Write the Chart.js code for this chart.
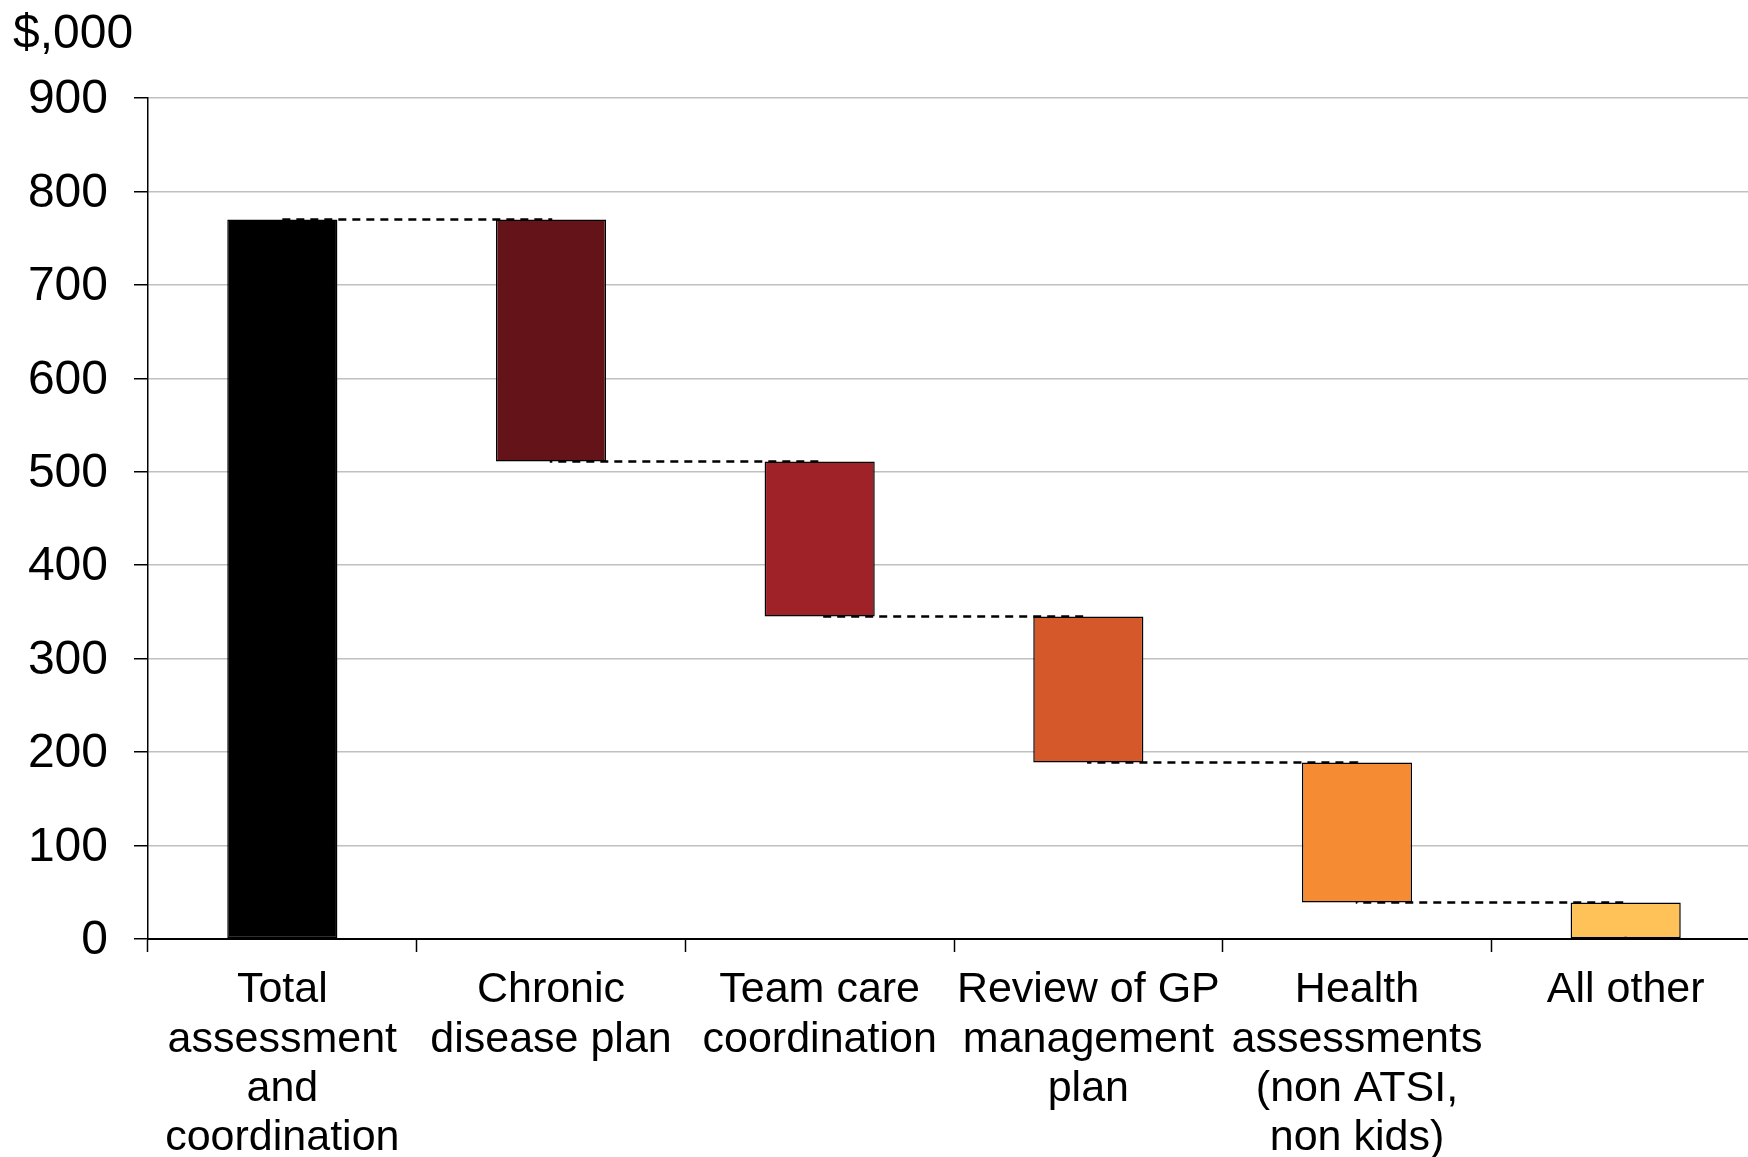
<!DOCTYPE html>
<html lang="en">
<head>
  <meta charset="UTF-8">
  <title>Assessment and coordination waterfall</title>
  <script src="https://cdn.jsdelivr.net/npm/chart.js"></script>
  <style>
    html, body { margin: 0; padding: 0; background: #fff; overflow: hidden; }
    /* plot runs a little past the right edge in the original, so the canvas is clipped */
    #wrap { width: 1748px; height: 1157px; overflow: hidden; }
  </style>
</head>
<body>
  <div id="wrap">
    <canvas id="waterfall" width="1760" height="1157"></canvas>
  </div>

  <script>
    // Categories (multi-line labels)
    const categories = [
      ['Total', 'assessment', 'and', 'coordination'],
      ['Chronic', 'disease plan'],
      ['Team care', 'coordination'],
      ['Review of GP', 'management', 'plan'],
      ['Health', 'assessments', '(non ATSI,', 'non kids)'],
      ['All other']
    ];

    // $,000 values
    const totalValue = 770;
    const components = [259, 166, 156, 150, 39];

    const barColors = ['#000000', '#641419', '#9E2227', '#D5582B', '#F58C34', '#FFC258'];
    const yTicks = [0, 100, 200, 300, 400, 500, 600, 700, 800, 900];

    // build floating bars + running level for the dashed connectors
    const bars = [[0, totalValue]];
    const levels = [totalValue];
    let level = totalValue;
    components.forEach(v => {
      bars.push([level - v, level]);
      level -= v;
      levels.push(level);
    });

    const FONT = "'Liberation Sans', Arial, sans-serif";

    // "$,000" unit label in the top-left corner
    const unitLabel = {
      id: 'unitLabel',
      afterDraw(chart) {
        const ctx = chart.ctx;
        ctx.save();
        ctx.font = '48px ' + FONT;
        ctx.fillStyle = '#000';
        ctx.textAlign = 'left';
        ctx.textBaseline = 'alphabetic';
        ctx.fillText('$,000', 13, 48);
        ctx.restore();
      }
    };

    new Chart(document.getElementById('waterfall').getContext('2d'), {
      data: {
        labels: categories,
        datasets: [
          {
            type: 'bar',
            data: bars,
            backgroundColor: barColors,
            borderColor: '#000',
            borderWidth: 1.5,
            borderSkipped: false,
            barPercentage: 0.41,
            categoryPercentage: 1,
            order: 1
          },
          {
            // dashed connectors, centre to centre; vertical steps sit inside the bars
            type: 'line',
            data: levels,
            stepped: 'before',
            borderColor: '#000',
            borderWidth: 2.5,
            borderDash: [8, 6],
            pointRadius: 0,
            fill: false,
            order: 2
          }
        ]
      },
      options: {
        responsive: false,
        animation: false,
        devicePixelRatio: 1,
        layout: { padding: { top: 98, right: 0, bottom: 0, left: 0 } },
        plugins: {
          legend: { display: false },
          tooltip: { enabled: false }
        },
        scales: {
          x: {
            grid: {
              drawOnChartArea: false,
              drawTicks: true,
              tickLength: 13,
              tickColor: '#000',
              tickWidth: 1.5
            },
            border: { color: '#000', width: 2 },
            ticks: {
              color: '#000',
              font: { family: FONT, size: 43, lineHeight: 1.144 },
              padding: 14,
              maxRotation: 0,
              autoSkip: false
            },
            afterFit(scale) { scale.height = 218; }
          },
          y: {
            min: 0,
            max: 900,
            afterBuildTicks(scale) { scale.ticks = yTicks.map(v => ({ value: v })); },
            grid: {
              color: '#c0c0c0',
              lineWidth: 1.5,
              tickLength: 14,
              tickColor: '#000',
              tickWidth: 1.5
            },
            border: { color: '#000', width: 1.5 },
            ticks: {
              color: '#000',
              font: { family: FONT, size: 48 },
              padding: 26,
              labelOffset: 2
            },
            afterFit(scale) { scale.width = 148; }
          }
        }
      },
      plugins: [unitLabel]
    });
  </script>
</body>
</html>
